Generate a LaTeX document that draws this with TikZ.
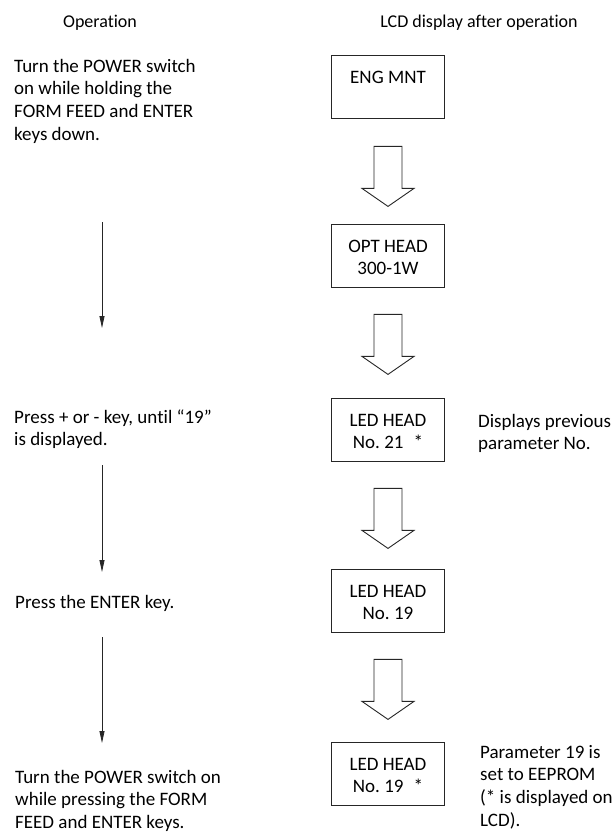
\documentclass[tikz,border=0pt]{standalone}
\usepackage{fontspec}
\setmainfont[Ligatures={TeX,NoCommon}]{Carlito}
\usetikzlibrary{arrows.meta,calc}
\begin{document}
\frenchspacing
\begin{tikzpicture}[x=1pt,y=-1pt,
  every node/.style={inner sep=0pt, text=black},
  head/.style={font=\fontsize{18}{22}\selectfont, anchor=base},
  optext/.style={font=\fontsize{19}{22.7}\selectfont, align=left, anchor=north west},
  lcdbox/.style={draw=black!85, line width=0.9pt, minimum width=113pt, minimum height=62.5pt, anchor=north},
  lcdtext/.style={font=\fontsize{19}{22}\selectfont, align=center, anchor=north},
  oparrow/.style={draw=black!85, line width=0.8pt, -{Triangle[length=12pt,width=5pt]}},
  blockarrow/.pic={\draw[black!85, line width=0.9pt, line join=miter] (-14,0) -- (-14,42) -- (-26,42) -- (0,60) -- (26,42) -- (14,42) -- (14,0) -- cycle;}
]
\useasboundingbox (0,0) rectangle (616,833);

% headers
\node[head] (h1) at (100,27) {Operation};
\node[head] (h2) at (479,27) {LCD display after operation};

% operation texts
\node[optext] (o1) at (14,56) {\strut Turn the POWER switch\\\strut on while holding the\\\strut FORM FEED and ENTER\\\strut keys down.};
\node[optext] (o2) at (14,407) {\strut Press + or - key, until ``19''\\\strut is displayed.};
\node[optext] (o3) at (15,592) {\strut Press the ENTER key.};
\node[optext] (o4) at (15,767) {\strut Turn the POWER switch on\\\strut while pressing the FORM\\\strut FEED and ENTER keys.};

% operation arrows
\coordinate (l1s) at (102,222); \coordinate (l1e) at (102,328);
\coordinate (l2s) at (102,465); \coordinate (l2e) at (102,572);
\coordinate (l3s) at (102,637); \coordinate (l3e) at (102,743);
\draw[oparrow] (l1s) -- (l1e);
\draw[oparrow] (l2s) -- (l2e);
\draw[oparrow] (l3s) -- (l3e);

% LCD boxes
\node[lcdbox] (b1) at (388,55) {};
\node[lcdbox] (b2) at (388,224) {};
\node[lcdbox] (b3) at (388,398) {};
\node[lcdbox] (b4) at (388,569) {};
\node[lcdbox] (b5) at (388,742) {};

\node[lcdtext] (t1) at ($(b1.north)+(0,13)$) {\strut ENG MNT};
\node[lcdtext] (t2) at ($(b2.north)+(0,13)$) {\strut OPT HEAD\\\strut 300-1W};
\node[lcdtext] (t3) at ($(b3.north)+(0,13)$) {\strut LED HEAD\\\strut No. 21\hspace{10pt}*};
\node[lcdtext] (t4) at ($(b4.north)+(0,13)$) {\strut LED HEAD\\\strut No. 19};
\node[lcdtext] (t5) at ($(b5.north)+(0,13)$) {\strut LED HEAD\\\strut No. 19\hspace{10pt}*};

% block arrows
\pic at ($(b1.south)+(0,28)$) {blockarrow};
\pic at ($(b2.south)+(0,27)$) {blockarrow};
\pic at ($(b3.south)+(0,27)$) {blockarrow};
\pic at ($(b4.south)+(0,27)$) {blockarrow};

% remarks
\node[optext] (r1) at (478,411) {\strut Displays previous\\\strut parameter No.};
\node[optext] (r2) at (480,742) {\strut Parameter 19 is\\\strut set to EEPROM\\\strut (* is displayed on\\\strut LCD).};
\end{tikzpicture}
\end{document}
